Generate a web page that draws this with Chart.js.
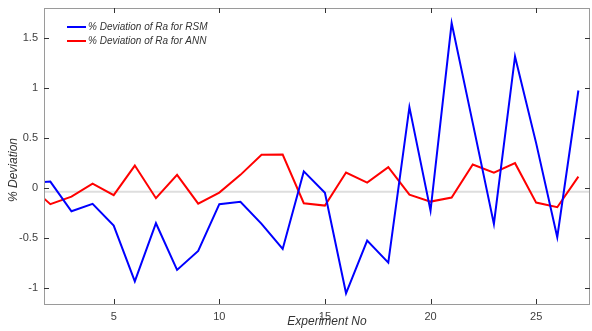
<!DOCTYPE html>
<html>
<head>
<meta charset="utf-8">
<script src="https://cdn.jsdelivr.net/npm/chart.js@4"></script>
<style>
  html, body { margin: 0; padding: 0; background: #fff; }
  #wrap { width: 592px; height: 331px; position: relative; }
</style>
</head>
<body>
<div id="wrap"><canvas id="devChart"></canvas></div>
<script>
// experiment numbers and % deviation readings
const experiments = [1, 2, 3, 4, 5, 6, 7, 8, 9, 10, 11, 12, 13, 14, 15, 16, 17, 18, 19, 20, 21, 22, 23, 24, 25, 26, 27];
const rsmDeviation = [0.05, 0.066, -0.23, -0.157, -0.374, -0.93, -0.35, -0.817, -0.627, -0.16, -0.135, -0.357, -0.607, 0.168, -0.046, -1.05, -0.524, -0.744, 0.81, -0.224, 1.65, 0.65, -0.357, 1.316, 0.45, -0.49, 0.976];
const annDeviation = [0.03, -0.16, -0.084, 0.046, -0.07, 0.226, -0.1, 0.133, -0.154, -0.044, 0.133, 0.333, 0.336, -0.15, -0.174, 0.156, 0.056, 0.21, -0.064, -0.134, -0.094, 0.236, 0.156, 0.25, -0.144, -0.19, 0.116];
const xTicks = [5, 10, 15, 20, 25];
const yTicks = [-1, -0.5, 0, 0.5, 1, 1.5];
const refLine = -0.035;

const FONT = '"Liberation Sans", Arial, sans-serif';

// ── box, inward ticks, reference line, titles, legend ────────────────────────
const matlabAxes = {
  id: 'matlabAxes',
  beforeDatasetsDraw(chart) {
    const { ctx, chartArea: a, scales: { y } } = chart;
    const py = y.getPixelForValue(refLine);
    ctx.save();
    ctx.strokeStyle = '#dedede';
    ctx.lineWidth = 2;
    ctx.beginPath();
    ctx.moveTo(a.left, py); ctx.lineTo(a.right, py);
    ctx.stroke();
    ctx.restore();
  },
  afterDraw(chart) {
    const { ctx, chartArea: a, scales: { x, y } } = chart;
    ctx.save();
    ctx.strokeStyle = '#9a9a9a';
    ctx.lineWidth = 1;
    ctx.strokeRect(a.left + 0.5, a.top + 0.5, a.right - a.left - 1, a.bottom - a.top);
    ctx.strokeStyle = '#333';
    ctx.beginPath();
    xTicks.forEach(v => {
      const px = Math.round(x.getPixelForValue(v)) + 0.5;
      ctx.moveTo(px, a.bottom); ctx.lineTo(px, a.bottom - 5);
      ctx.moveTo(px, a.top); ctx.lineTo(px, a.top + 5);
    });
    yTicks.forEach(v => {
      const py = Math.round(y.getPixelForValue(v)) + 0.5;
      ctx.moveTo(a.left, py); ctx.lineTo(a.left + 5, py);
      ctx.moveTo(a.right, py); ctx.lineTo(a.right - 5, py);
    });
    ctx.stroke();

    // axis titles
    ctx.fillStyle = '#333';
    ctx.font = 'italic 12px ' + FONT;
    ctx.textAlign = 'center';
    ctx.textBaseline = 'middle';
    ctx.fillText('Experiment No', 327, 322);
    ctx.translate(14, 170);
    ctx.rotate(-Math.PI / 2);
    ctx.fillText('% Deviation', 0, 0);
    ctx.restore();

    // legend
    ctx.save();
    ctx.font = 'italic 10px ' + FONT;
    ctx.textBaseline = 'middle';
    ctx.textAlign = 'left';
    chart.data.datasets.forEach((ds, i) => {
      const ly = 27 + i * 14;
      ctx.strokeStyle = ds.borderColor;
      ctx.lineWidth = 2;
      ctx.beginPath();
      ctx.moveTo(67, ly); ctx.lineTo(86, ly);
      ctx.stroke();
      ctx.fillStyle = '#333';
      ctx.fillText(ds.label, 88, ly);
    });
    ctx.restore();
  }
};

new Chart(document.getElementById('devChart'), {
  type: 'line',
  data: {
    labels: experiments,
    datasets: [
      {
        label: '% Deviation of Ra for RSM',
        data: experiments.map((e, i) => ({ x: e, y: rsmDeviation[i] })),
        borderColor: '#0000ff', borderWidth: 2, pointRadius: 0, tension: 0, fill: false,
      },
      {
        label: '% Deviation of Ra for ANN',
        data: experiments.map((e, i) => ({ x: e, y: annDeviation[i] })),
        borderColor: '#ff0000', borderWidth: 2, pointRadius: 0, tension: 0, fill: false,
      }
    ]
  },
  options: {
    responsive: true, maintainAspectRatio: false, animation: false,
    layout: { padding: { top: 8, right: 2, left: 0, bottom: 0 } },
    plugins: { legend: { display: false }, tooltip: { enabled: false } },
    scales: {
      x: {
        type: 'linear', min: 1.7, max: 27.55,
        grid: { display: false, drawTicks: false }, border: { display: false },
        afterBuildTicks: s => { s.ticks = xTicks.map(v => ({ value: v })); },
        afterFit: s => { s.height = 27; s.paddingLeft = 0; s.paddingRight = 0; },
        ticks: { color: '#404040', padding: 6, font: { family: FONT, size: 11 }, callback: v => String(v) }
      },
      y: {
        min: -1.157, max: 1.8,
        grid: { display: false, drawTicks: false }, border: { display: false },
        afterBuildTicks: s => { s.ticks = yTicks.map(v => ({ value: v })); },
        afterFit: s => { s.width = 44; s.paddingTop = 0; s.paddingBottom = 0; },
        ticks: { color: '#404040', padding: 6, font: { family: FONT, size: 11 }, callback: v => String(v) }
      }
    }
  },
  plugins: [matlabAxes]
});
</script>
</body>
</html>
